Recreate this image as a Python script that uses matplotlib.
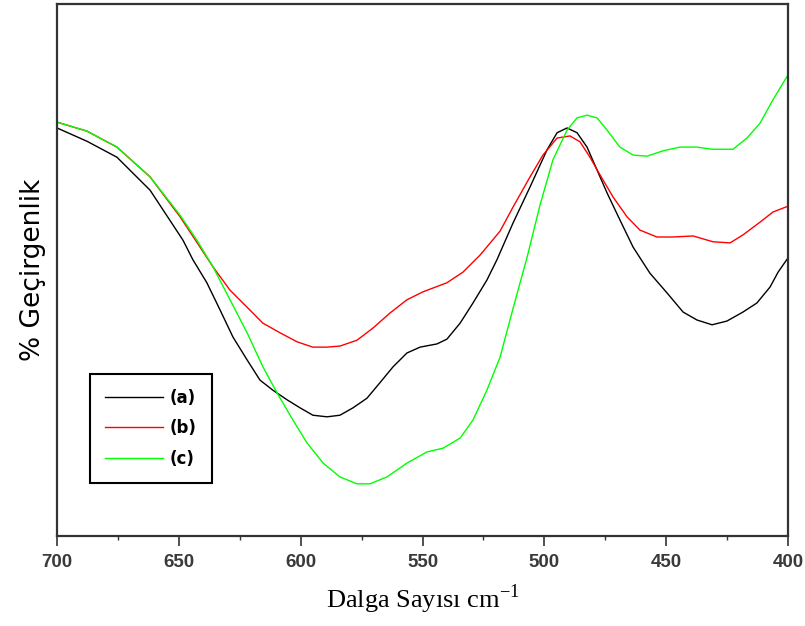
import matplotlib.pyplot as plt
from matplotlib.ticker import MultipleLocator, NullLocator

# FTIR spectra, 700-400 cm-1 (transmittance, arbitrary units)
wn_a = [700.0, 687.7, 675.4, 661.8, 648.3, 644.2, 638.5, 633.1, 627.8, 622.0, 616.7, 611.4,
        605.6, 600.3, 595.0, 589.2, 583.9, 578.5, 572.8, 567.5, 562.1, 556.4, 551.0, 544.1,
        540.0, 534.6, 529.3, 523.6, 519.5, 512.9, 505.9, 498.9, 494.8, 490.7, 486.6, 482.5,
        478.4, 474.3, 469.0, 463.6, 456.7, 449.7, 443.1, 437.4, 431.2, 425.1, 418.5, 412.8,
        407.4, 404.1, 400.0]
t_a = [76.7, 74.2, 71.2, 65.0, 55.6, 51.9, 47.6, 42.5, 37.4, 33.1, 29.3, 27.4,
       25.6, 24.1, 22.7, 22.4, 22.7, 24.1, 25.9, 28.8, 31.8, 34.4, 35.5, 36.1,
       37.0, 40.0, 43.8, 48.1, 51.9, 58.8, 65.6, 72.6, 75.8, 76.7, 75.8, 73.1,
       68.8, 64.5, 59.4, 54.3, 49.4, 45.7, 42.1, 40.6, 39.7, 40.4, 42.1, 43.8,
       46.8, 49.6, 52.3]

wn_b = [700.0, 687.7, 675.4, 661.8, 649.5, 641.3, 636.0, 629.0, 622.0, 615.5, 608.5, 601.5,
        595.0, 589.2, 583.9, 576.9, 570.3, 563.4, 556.4, 549.8, 540.0, 533.4, 526.4, 518.2,
        512.9, 505.9, 500.6, 494.8, 489.5, 485.4, 481.3, 477.2, 471.8, 466.1, 460.8, 453.8,
        447.2, 439.0, 430.8, 423.8, 418.5, 411.5, 406.2, 400.0]
t_b = [77.8, 76.1, 73.1, 67.5, 60.0, 54.3, 50.6, 46.2, 43.0, 40.0, 38.2, 36.5,
       35.5, 35.5, 35.7, 36.8, 39.1, 41.9, 44.4, 45.9, 47.6, 49.6, 52.8, 57.3,
       61.8, 67.5, 71.6, 74.8, 75.2, 74.1, 71.2, 67.9, 63.7, 60.0, 57.5, 56.2,
       56.2, 56.4, 55.3, 55.1, 56.6, 59.0, 60.9, 62.0]

wn_c = [700.0, 687.7, 675.4, 661.8, 649.5, 642.6, 636.0, 629.0, 622.0, 615.5, 609.7, 603.2,
        597.4, 590.8, 583.9, 576.9, 571.6, 564.6, 556.4, 548.2, 541.6, 534.6, 529.3, 523.6,
        518.2, 512.9, 507.1, 501.8, 496.5, 490.7, 486.6, 482.5, 478.4, 474.3, 469.0, 463.6,
        457.9, 451.3, 444.4, 437.4, 431.2, 422.6, 416.9, 411.5, 406.2, 400.0]
t_c = [77.8, 76.1, 73.1, 67.5, 60.3, 55.6, 50.6, 44.4, 38.2, 31.8, 26.9, 21.8,
       17.5, 13.7, 11.1, 9.8, 9.8, 11.1, 13.7, 15.8, 16.5, 18.4, 21.8, 27.4,
       33.6, 42.7, 52.4, 62.2, 70.7, 76.3, 78.6, 79.1, 78.6, 76.3, 73.1, 71.6,
       71.4, 72.4, 73.1, 73.1, 72.7, 72.7, 74.8, 77.6, 82.0, 86.7]

labels = ['(a)', '(b)', '(c)']
colors = ['#000000', '#ff0000', '#00ff00']

fig = plt.figure(figsize=(8.05, 6.26), dpi=100)
ax = fig.add_axes([0.0708, 0.1438, 0.9082, 0.8498])

for wn, t, lab, col in zip([wn_a, wn_b, wn_c], [t_a, t_b, t_c], labels, colors):
    ax.plot(wn, t, color=col, lw=1.0, label=lab, solid_joinstyle='round')

ax.set_xlim(700, 400)
ax.set_ylim(0, 100)

ax.xaxis.set_major_locator(MultipleLocator(50))
ax.xaxis.set_minor_locator(MultipleLocator(25))
ax.yaxis.set_major_locator(NullLocator())
ax.tick_params(axis='x', which='major', direction='out', length=7, width=1.2,
               color='#333333', pad=6)
ax.tick_params(axis='x', which='minor', direction='out', length=3, width=1.0,
               color='#333333')
for lbl in ax.get_xticklabels():
    lbl.set_family('Liberation Sans')
    lbl.set_fontweight('bold')
    lbl.set_fontsize(13.5)
    lbl.set_color('#3a3a3a')

for sp in ax.spines.values():
    sp.set_linewidth(1.6)
    sp.set_color('#333333')

ax.set_xlabel('Dalga Sayısı cm$^{\\mathregular{-1}}$', family='Liberation Serif',
              fontsize=19, labelpad=8)
ax.set_ylabel('% Geçirgenlik', family='DejaVu Sans', fontsize=19, labelpad=8)

leg = ax.legend(loc='lower left', bbox_to_anchor=(0.045, 0.10), borderaxespad=0,
                fancybox=False, edgecolor='black', framealpha=1,
                prop={'family': 'DejaVu Sans', 'weight': 'bold', 'size': 12},
                handlelength=3.5, labelspacing=0.75, borderpad=0.9, handletextpad=0.4)
leg.get_frame().set_linewidth(1.5)

plt.savefig('out.png', dpi=100)
